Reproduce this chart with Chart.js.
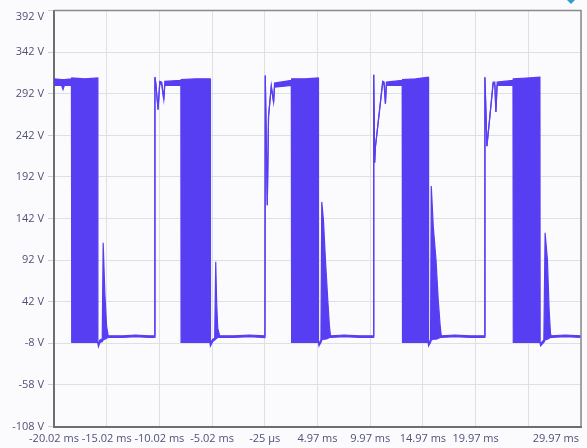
<!DOCTYPE html>
<html>
<head>
<meta charset="utf-8">
<script src="https://cdn.jsdelivr.net/npm/chart.js@4/dist/chart.umd.min.js"></script>
<style>
    html, body { margin: 0; padding: 0; background: #fbfbfd; }
    canvas { display: block; }
</style>
</head>
<body>
<canvas id="scope" width="587" height="448"></canvas>
<script>
// time axis in ms, envelope of the trace (upper / lower) in volts
const timeMs = [
    -20.02, -19.30, -19.17, -19.05, -18.37, -18.34, -17.10, -15.88, -15.86, -15.81, -15.67, -15.45, -15.36, -15.20, -15.03, -14.88, -13.50, -12.30, -11.00, -10.48,
    -10.45, -10.37, -10.15, -9.99, -9.80, -9.61, -9.51, -7.99, -7.97, -6.60, -5.22, -5.20, -5.16, -4.97, -4.78, -4.68, -4.59, -4.49, -4.30, -3.00, -1.50, -0.01,
    0.02, 0.21, 0.33, 0.59, 0.81, 0.90, 2.49, 2.52, 3.80, 5.05, 5.07, 5.12, 5.30, 5.38, 5.54, 5.73, 5.95, 6.11, 6.21, 7.50, 9.00, 10.28,
    10.31, 10.40, 10.47, 11.16, 11.30, 11.42, 11.51, 13.01, 13.04, 14.30, 15.47, 15.49, 15.54, 15.70, 15.77, 15.96, 16.22, 16.43, 16.62, 16.72, 18.00, 19.50, 20.83,
    20.86, 21.05, 21.64, 21.80, 21.90, 22.02, 23.52, 23.55, 24.80, 26.08, 26.10, 26.14, 26.45, 26.57, 26.79, 26.95, 27.08, 27.14, 28.50, 29.97
];
const upperV = [
    310, 309, 309, 309, 310, 311, 310, 311, -6, -9, -4, -3, 113, 52, 12, 1, 1, 2, 1, 1,
    312, 305, 273, 307, 306, 285, 307, 308, 309, 310, 310, -7, -8, -3, -2, 90, 40, 10, 1, 1, 2, 1,
    314, 158, 265, 302, 282, 305, 308, 310, 310, 311, -7, -8, -4, 162, 140, 92, 44, 12, 1, 2, 1, 1,
    315, 209, 228, 307, 306, 280, 306, 308, 309, 310, 312, -7, -8, -4, 181, 132, 92, 44, 12, 1, 2, 1, 1,
    312, 229, 306, 306, 270, 306, 308, 310, 311, 312, -7, -8, -4, 125, 92, 32, 4, 1, 2, 1
];
const lowerV = [
    302, 302, 297, 302, 302, -7, -7, -7, -8, -12, -7, -6, -4, -3, -2, -1, -1, 0, -1, -1,
    312, 305, 273, 305, 302, 285, 302, 302, -7, -7, -7, -8, -11, -6, -4, -3, -2, -1, -1, -1, 0, -1,
    314, 158, 265, 300, 282, 300, 302, -7, -7, -7, -8, -11, -7, -4, -3, -3, -2, -1, -1, 0, -1, -1,
    315, 209, 228, 305, 302, 280, 302, 302, -7, -7, -7, -8, -11, -7, -4, -3, -3, -2, -1, -1, 0, -1, -1,
    312, 229, 304, 302, 270, 302, 302, -7, -7, -7, -8, -11, -7, -4, -3, -2, -1, -1, 0, -1
];

const xTickValues = [-20.025, -15.025, -10.025, -5.025, -0.025, 4.975, 9.975, 14.975, 19.975, 24.975, 29.975];
const xTickLabels = ['-20.02 ms', '-15.02 ms', '-10.02 ms', '-5.02 ms', '-25 \u00b5s', '4.97 ms', '9.97 ms', '14.97 ms', '19.97 ms', '', '29.97 ms'];
const yTickValues = [-108, -58, -8, 42, 92, 142, 192, 242, 292, 342, 392];

const traceColor = '#583ef2';
const tickColor = '#505078';
const tickFont = { family: '"Segoe UI", "Open Sans", sans-serif', size: 11 };

var upperPts = timeMs.map((t, i) => ({ x: t, y: upperV[i] }));
var lowerPts = timeMs.map((t, i) => ({ x: t, y: lowerV[i] }));

// top/right frame, and the two labels the scope clamps inside the canvas
const framePlugin = {
    id: 'frame',
    afterDraw(chart) {
        var ctx = chart.ctx;
        var a = chart.chartArea;
        ctx.save();
        ctx.strokeStyle = '#8a8a8a';
        ctx.lineWidth = 1.5;
        ctx.beginPath();
        ctx.moveTo(a.left, a.top);
        ctx.lineTo(a.right, a.top);
        ctx.lineTo(a.right, a.bottom);
        ctx.stroke();

        ctx.fillStyle = tickColor;
        ctx.font = tickFont.size + 'px ' + tickFont.family;
        ctx.textBaseline = 'middle';
        ctx.textAlign = 'right';
        ctx.fillText(yTickValues[yTickValues.length - 1] + ' V', a.left - 10, 17);
        ctx.fillText(xTickLabels[xTickLabels.length - 1], a.right - 2, 439);

        // little teal marker peeking in at the top right
        ctx.fillStyle = '#2b9fd4';
        ctx.beginPath();
        ctx.moveTo(567, 0);
        ctx.lineTo(575, 0);
        ctx.lineTo(571, 4);
        ctx.closePath();
        ctx.fill();
        ctx.restore();
    }
};

new Chart(document.getElementById('scope'), {
    type: 'line',
    data: {
        datasets: [{
            data: upperPts,
            borderColor: traceColor,
            backgroundColor: traceColor,
            borderWidth: 1.2,
            pointRadius: 0,
            tension: 0,
            fill: '+1'
        }, {
            data: lowerPts,
            borderColor: traceColor,
            backgroundColor: traceColor,
            borderWidth: 1.2,
            pointRadius: 0,
            tension: 0,
            fill: false
        }]
    },
    options: {
        responsive: false,
        animation: false,
        layout: { padding: { top: 10, right: 5, left: 0, bottom: 0 } },
        plugins: { legend: { display: false }, tooltip: { enabled: false } },
        scales: {
            x: {
                type: 'linear',
                min: -20.025,
                max: 29.975,
                afterBuildTicks: (axis) => { axis.ticks = xTickValues.map(v => ({ value: v })); },
                afterFit: (scale) => { scale.height = 21.5; },
                grid: { color: '#dfe0e4', drawTicks: false },
                border: { color: '#6e6e6e', width: 2 },
                ticks: {
                    color: tickColor,
                    font: tickFont,
                    padding: 6,
                    maxRotation: 0,
                    autoSkip: false,
                    callback: (value, index) => index === xTickLabels.length - 1 ? '' : xTickLabels[index]
                }
            },
            y: {
                min: -108,
                max: 392,
                afterBuildTicks: (axis) => { axis.ticks = yTickValues.map(v => ({ value: v })); },
                afterFit: (scale) => { scale.width = 54; },
                grid: { color: '#dfe0e4', tickLength: 6, tickColor: '#cfd0d6' },
                border: { color: '#6e6e6e', width: 2 },
                ticks: {
                    color: tickColor,
                    font: tickFont,
                    padding: 4,
                    autoSkip: false,
                    callback: (value) => value === yTickValues[yTickValues.length - 1] ? '' : value + ' V'
                }
            }
        }
    },
    plugins: [framePlugin]
});
</script>
</body>
</html>
